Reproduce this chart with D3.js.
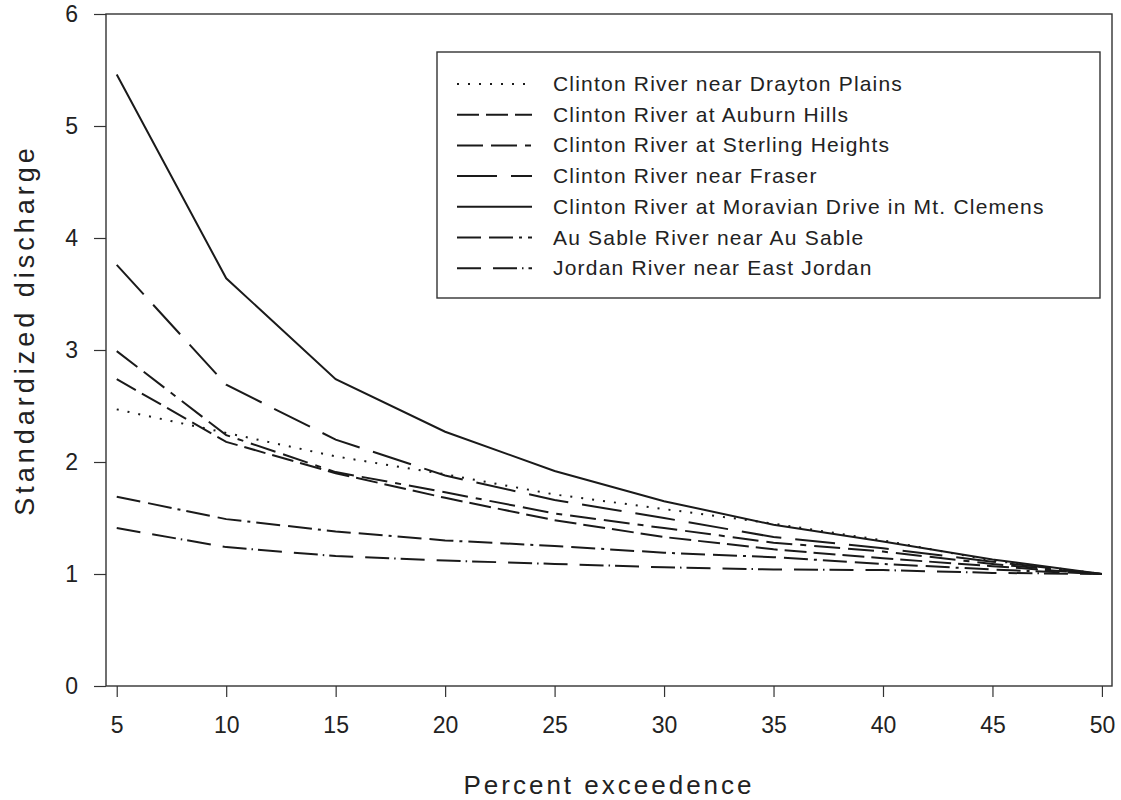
<!DOCTYPE html>
<html>
<head>
<meta charset="utf-8">
<script src="https://cdn.jsdelivr.net/npm/d3@7"></script>
<style>
  body { margin: 0; background: #fff; }
  svg text { font-family: "Liberation Sans", Arial, sans-serif; fill: #222; }
</style>
</head>
<body>
<div id="chart"></div>
<script>
// percent exceedence on the x axis
const exceedence = [5, 10, 15, 20, 25, 30, 35, 40, 45, 50];

// standardized discharge per gaging station
const draytonPlains = [2.47, 2.26, 2.05, 1.89, 1.71, 1.58, 1.45, 1.30, 1.12, 1.00];
const auburnHills = [2.74, 2.18, 1.90, 1.68, 1.48, 1.33, 1.22, 1.14, 1.07, 1.00];
const sterlingHeights = [2.99, 2.24, 1.91, 1.73, 1.54, 1.41, 1.28, 1.20, 1.09, 1.00];
const fraser = [3.76, 2.69, 2.20, 1.88, 1.66, 1.50, 1.33, 1.23, 1.11, 1.00];
const moravianDrive = [5.46, 3.64, 2.74, 2.27, 1.92, 1.65, 1.44, 1.29, 1.13, 1.00];
const auSable = [1.69, 1.49, 1.38, 1.30, 1.25, 1.19, 1.15, 1.09, 1.04, 1.00];
const jordan = [1.41, 1.24, 1.16, 1.12, 1.09, 1.06, 1.04, 1.035, 1.01, 1.00];

const seriesNames = [
    "Clinton River near Drayton Plains",
    "Clinton River at Auburn Hills",
    "Clinton River at Sterling Heights",
    "Clinton River near Fraser",
    "Clinton River at Moravian Drive in Mt. Clemens",
    "Au Sable River near Au Sable",
    "Jordan River near East Jordan"
];
const seriesValues = [draytonPlains, auburnHills, sterlingHeights, fraser, moravianDrive, auSable, jordan];

const xTicks = [5, 10, 15, 20, 25, 30, 35, 40, 45, 50];
const yTicks = [0, 1, 2, 3, 4, 5, 6];

const width = 1121;
const height = 800;

// line styles, one per station
const dashes = [
    "2,9",
    "22,7",
    "26,8,26,8,6,8",
    "40,14",
    null,
    "24,8,24,6,3,6",
    "24,12,24,5,1.5,5"
];

const svg = d3.select("#chart").append("svg")
    .attr("width", width)
    .attr("height", height);

const plot = { left: 106, right: 1112, top: 14, bottom: 686 };

const x = d3.scaleLinear().domain([4.51, 50.46]).range([plot.left, plot.right]);
const y = d3.scaleLinear().domain([0, 6]).range([plot.bottom, plot.top]);

// frame
svg.append("rect")
    .attr("x", plot.left)
    .attr("y", plot.top)
    .attr("width", plot.right - plot.left)
    .attr("height", plot.bottom - plot.top)
    .attr("fill", "none")
    .attr("stroke", "#333")
    .attr("stroke-width", 1.4);

// x axis
const xAxis = svg.append("g")
    .attr("transform", `translate(0,${plot.bottom})`)
    .call(d3.axisBottom(x).tickValues(xTicks).tickSize(11).tickPadding(20).tickSizeOuter(0));
xAxis.select(".domain").remove();
xAxis.selectAll("line").attr("stroke", "#333").attr("stroke-width", 1.2);
xAxis.selectAll("text").attr("font-size", 23).attr("fill", "#222");

// y axis
const yAxis = svg.append("g")
    .attr("transform", `translate(${plot.left},0)`)
    .call(d3.axisLeft(y).tickValues(yTicks).tickFormat(d3.format("d"))
        .tickSize(12).tickPadding(16).tickSizeOuter(0));
yAxis.select(".domain").remove();
yAxis.selectAll("line").attr("stroke", "#333").attr("stroke-width", 1.2);
yAxis.selectAll("text").attr("font-size", 23).attr("fill", "#222");

// axis titles
svg.append("text")
    .attr("x", (plot.left + plot.right) / 2)
    .attr("y", 794)
    .attr("text-anchor", "middle")
    .attr("font-size", 26)
    .attr("letter-spacing", 3)
    .text("Percent exceedence");

svg.append("text")
    .attr("transform", `translate(34,330) rotate(-90)`)
    .attr("text-anchor", "middle")
    .attr("font-size", 27)
    .attr("letter-spacing", 4)
    .text("Standardized discharge");

// data lines
const line = d3.line()
    .x((d, i) => x(exceedence[i]))
    .y(d => y(d));

svg.append("g").selectAll("path")
    .data(seriesValues)
    .join("path")
    .attr("d", line)
    .attr("fill", "none")
    .attr("stroke", "#1a1a1a")
    .attr("stroke-width", 2)
    .attr("stroke-dasharray", (d, i) => dashes[i]);

// legend
const legend = svg.append("g");
legend.append("rect")
    .attr("x", 437)
    .attr("y", 52)
    .attr("width", 663)
    .attr("height", 246)
    .attr("fill", "#fff")
    .attr("stroke", "#333")
    .attr("stroke-width", 1.4);

const rows = legend.selectAll("g.item")
    .data(seriesNames)
    .join("g")
    .attr("class", "item")
    .attr("transform", (d, i) => `translate(0,${84 + i * 30.7})`);

rows.append("line")
    .attr("x1", 457)
    .attr("x2", 532)
    .attr("stroke", "#1a1a1a")
    .attr("stroke-width", 2)
    .attr("stroke-dasharray", (d, i) => dashes[i]);

rows.append("text")
    .attr("x", 553)
    .attr("y", 7)
    .attr("font-size", 21)
    .attr("letter-spacing", 1.2)
    .text(d => d);
</script>
</body>
</html>
